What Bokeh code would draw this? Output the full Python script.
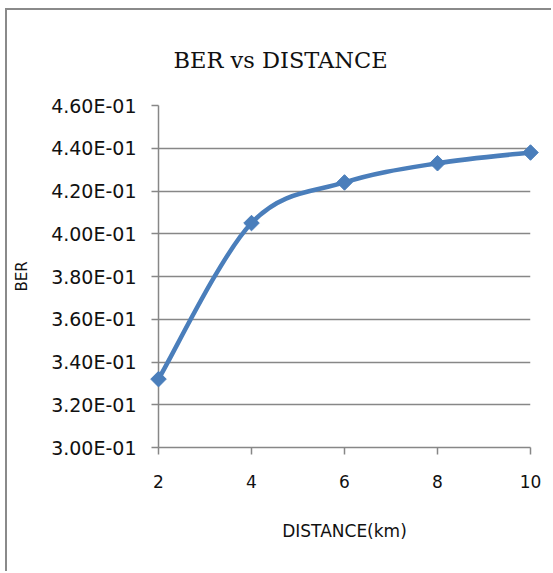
import numpy as np
from bokeh.plotting import figure
from bokeh.models import FixedTicker, ColumnDataSource
from bokeh.embed import file_html
from bokeh.resources import INLINE

# ---- data ----
distance_km = [2, 4, 6, 8, 10]
ber = [0.332, 0.405, 0.424, 0.433, 0.438]
x_ticks = [2, 4, 6, 8, 10]
y_ticks = [0.30, 0.32, 0.34, 0.36, 0.38, 0.40, 0.42, 0.44, 0.46]
y_tick_labels = ["3.00E-01", "3.20E-01", "3.40E-01", "3.60E-01", "3.80E-01",
                 "4.00E-01", "4.20E-01", "4.40E-01", "4.60E-01"]
title_text = "BER vs DISTANCE"
x_title = "DISTANCE(km)"
y_title = "BER"

LINE = "#4A7EBB"
GRID = "#878787"
TICK_FONT = "DejaVu Sans"

p = figure(width=546, height=563, x_range=(2, 10), y_range=(0.30, 0.46),
           output_backend="svg", toolbar_location=None,
           min_border_left=151, min_border_right=23,
           min_border_top=95, min_border_bottom=126,
           background_fill_color="white", border_fill_color="white",
           title=title_text)
p.styles = {"margin-left": "5px", "margin-top": "8px",
            "border-left": "2px solid #8a8a8a",
            "border-top": "2px solid #8a8a8a"}
p.outline_line_color = None

xax = p.below[0]
yax = p.left[0]

# title
p.title.text_font = "DejaVu Serif"
p.title.text_font_size = "22.5px"
p.title.text_font_style = "normal"
p.title.text_color = "#111111"
p.title.align = "left"
p.title.offset = 15
p.title.standoff = 66

# grids
p.xgrid.visible = False
p.ygrid.grid_line_color = GRID
p.ygrid.grid_line_width = 1.5
p.ygrid.ticker = FixedTicker(ticks=y_ticks)

# axes
for ax in (xax, yax):
    ax.axis_line_color = GRID
    ax.axis_line_width = 1.5
    ax.major_tick_line_color = GRID
    ax.major_tick_line_width = 1.5
    ax.major_tick_in = 0
    ax.major_tick_out = 7
    ax.minor_tick_line_color = None
    ax.major_label_text_font = TICK_FONT
    ax.major_label_text_color = "#111111"
    ax.axis_label_text_font = TICK_FONT
    ax.axis_label_text_font_style = "normal"
    ax.axis_label_text_color = "#111111"

xax.major_label_text_font_size = "17px"
yax.major_label_text_font_size = "19px"
xax.axis_label_text_font_size = "17px"
yax.axis_label_text_font_size = "15px"
xax.ticker = FixedTicker(ticks=x_ticks)
yax.ticker = FixedTicker(ticks=y_ticks)
yax.major_label_overrides = {t: s for t, s in zip(y_ticks, y_tick_labels)}
xax.major_label_standoff = 20
yax.major_label_standoff = 15
xax.axis_label = x_title
yax.axis_label = y_title
xax.axis_label_standoff = 30
yax.axis_label_standoff = 17

# smoothed line (Excel-style Catmull-Rom bezier built from the data)
xs = np.array(distance_km, dtype=float)
ys = np.array(ber, dtype=float)
n = len(xs)
x0, y0, x1, y1, cx0, cy0, cx1, cy1 = [], [], [], [], [], [], [], []
for i in range(n - 1):
    pm = i - 1 if i > 0 else i
    pp = i + 2 if i + 2 < n else i + 1
    x0.append(xs[i]); y0.append(ys[i])
    x1.append(xs[i + 1]); y1.append(ys[i + 1])
    cx0.append(xs[i] + (xs[i + 1] - xs[pm]) / 6.0)
    cy0.append(ys[i] + (ys[i + 1] - ys[pm]) / 6.0)
    cx1.append(xs[i + 1] - (xs[pp] - xs[i]) / 6.0)
    cy1.append(ys[i + 1] - (ys[pp] - ys[i]) / 6.0)
bz = ColumnDataSource(dict(x0=x0, y0=y0, x1=x1, y1=y1,
                           cx0=cx0, cy0=cy0, cx1=cx1, cy1=cy1))
p.bezier(x0="x0", y0="y0", x1="x1", y1="y1", cx0="cx0", cy0="cy0",
         cx1="cx1", cy1="cy1", source=bz, line_color=LINE, line_width=4.5)

pts = p.scatter(distance_km, ber, marker="square", angle=np.pi / 4, size=11,
                fill_color=LINE, line_color=LINE, line_width=1)
pts.level = "overlay"

open("out.html", "w").write(file_html(p, INLINE))
